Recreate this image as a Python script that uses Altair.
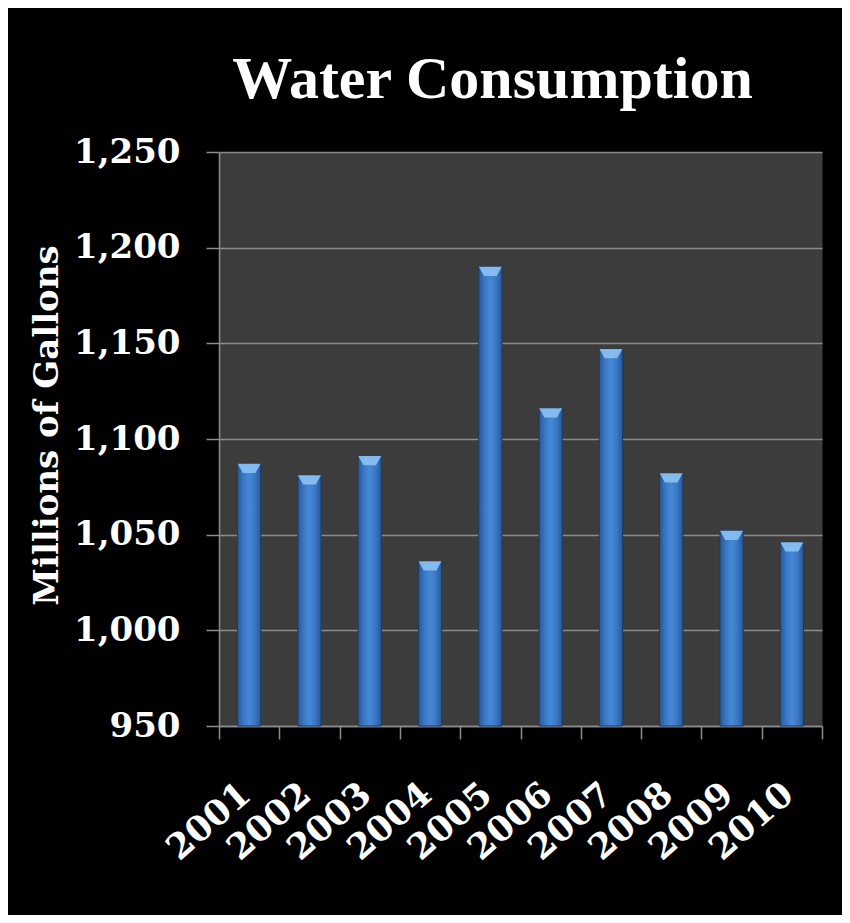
import altair as alt
import pandas as pd

years = ["2001", "2002", "2003", "2004", "2005", "2006", "2007", "2008", "2009", "2010"]
consumption = [1087, 1081, 1091, 1036, 1190, 1116, 1147, 1082, 1052, 1046]
y_ticks = [950, 1000, 1050, 1100, 1150, 1200, 1250]
y_domain = [950, 1250]
baseline_value = 950

df = pd.DataFrame({"Year": years, "Consumption": consumption})

bar_gradient = alt.LinearGradient(
    gradient="linear",
    stops=[
        alt.GradientStop(color="#285894", offset=0),
        alt.GradientStop(color="#3a77c4", offset=0.25),
        alt.GradientStop(color="#4689d8", offset=0.5),
        alt.GradientStop(color="#3a77c4", offset=0.75),
        alt.GradientStop(color="#285894", offset=1),
    ],
    x1=0, x2=1, y1=0, y2=0,
)

label_font = "DejaVu Serif"
grey = "#8c8c8c"

x_enc = alt.X(
    "Year:N",
    sort=years,
    scale=alt.Scale(paddingInner=0, paddingOuter=0),
    axis=alt.Axis(
        title=None,
        labelAngle=-41,
        labelAlign="right",
        labelBaseline="middle",
        labelFont=label_font,
        labelFontWeight="bold",
        labelFontSize=35,
        labelColor="white",
        labelPadding=50,
        labelOffset=-4,
        tickBand="extent",
        tickSize=13,
        tickColor=grey,
        tickWidth=1.5,
        domainColor=grey,
        domainWidth=1.5,
        grid=False,
    ),
)

y_enc = alt.Y(
    "Consumption:Q",
    scale=alt.Scale(domain=y_domain, nice=False, zero=False),
    axis=alt.Axis(
        values=y_ticks,
        format=",d",
        title="Millions of Gallons",
        titleFont=label_font,
        titleFontWeight="bold",
        titleFontSize=34,
        titleColor="white",
        titleX=-162,
        titleY=273,
        titleAngle=-90,
        titleBaseline="alphabetic",
        titleAlign="center",
        labelFont=label_font,
        labelFontWeight="bold",
        labelFontSize=34,
        labelColor="white",
        labelPadding=26,
        tickSize=13,
        tickColor=grey,
        tickWidth=1.5,
        domainColor=grey,
        domainWidth=1.5,
        grid=True,
        gridColor=grey,
        gridWidth=1.6,
    ),
)

bars = alt.Chart(df).mark_bar(
    fill=bar_gradient,
    stroke="#1d3b66",
    strokeWidth=1,
    width=alt.RelativeBandSize(0.386),
).encode(
    x=x_enc,
    y=y_enc,
    y2=alt.datum(baseline_value),
)

bevel = alt.Chart(df).mark_point(
    shape="M-1,-0.4L1,-0.4L0.55,0.4L-0.55,0.4Z",
    size=529,
    filled=True,
    fill="#8cc2f4",
    opacity=0.9,
    strokeWidth=0,
    yOffset=4.5,
).encode(
    x=alt.X("Year:N", sort=years),
    y=alt.Y("Consumption:Q"),
)

chart = alt.layer(bars, bevel).properties(
    width=603,
    height=574,
    title=alt.TitleParams(
        "Water Consumption",
        font="Liberation Serif",
        fontSize=60,
        fontWeight="bold",
        color="white",
        anchor="middle",
        frame="group",
        baseline="alphabetic",
        dx=-28,
        dy=75,
        offset=52,
    ),
    autosize=alt.AutoSizeParams(type="none"),
    padding={"left": 211, "top": 144, "right": 20, "bottom": 189},
    background="black",
).configure_view(
    fill="#3c3c3c",
    strokeOpacity=0,
)

chart.save("out.html", embed_options={"renderer": "svg", "actions": False})
